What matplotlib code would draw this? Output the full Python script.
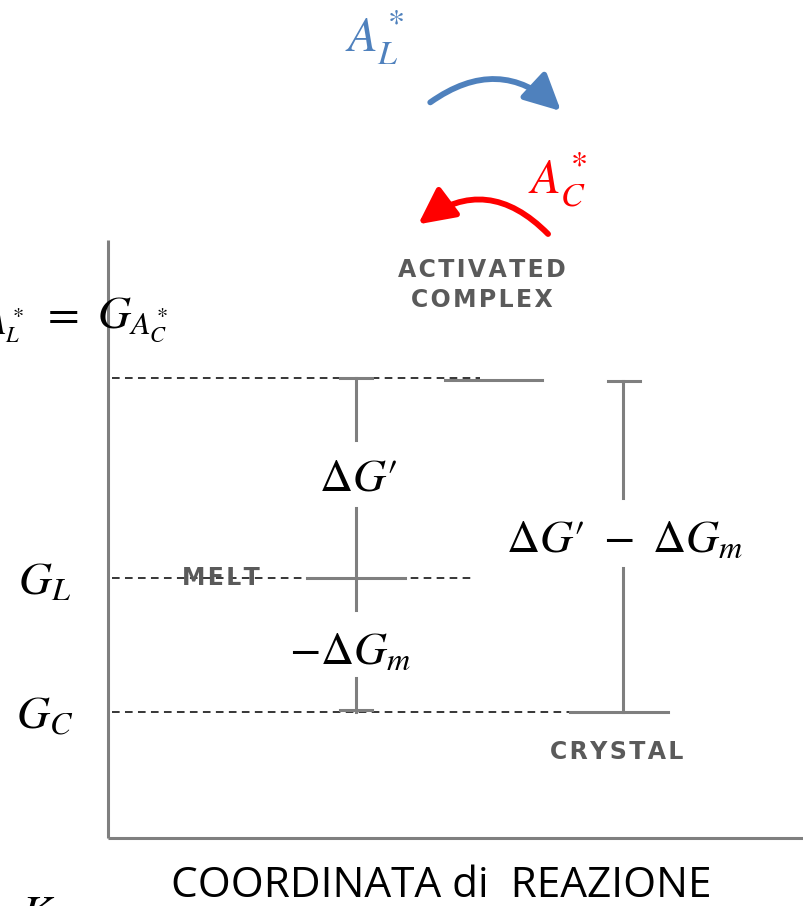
import matplotlib.pyplot as plt
from matplotlib.patches import FancyArrowPatch

plt.rcParams['mathtext.fontset'] = 'stix'

# energy levels (arbitrary units), reaction-coordinate spans of each state
level_names = ['ACTIVATED\nCOMPLEX', 'MELT', 'CRYSTAL']
level_G = [3.32, 1.34, 0.0]
level_x0 = [445, 307, 570]
level_x1 = [542, 405, 668]
dash_G = [3.34, 1.34, 0.0]
dash_x1 = [480, 472, 570]
left_labels = [r'$G_{A_L^*}\ =\ G_{A_C^*}$', r'$G_L$', r'$G_C$']

fig = plt.figure(figsize=(8.04, 9.06), dpi=100)
ax = fig.add_axes([0, 0, 1, 1])
ax.set_xlim(0, 804)
ax.set_ylim(-1.94, 7.12)
ax.axis('off')

def py(p):
    # pixel row -> energy unit
    return (712 - p) / 100.0

def spaced(s):
    # scanned labels have wide letter spacing
    return '\n'.join('\u200a'.join(line) for line in s.split('\n'))

gray = '#7f7f7f'
lab = '#5a5a5a'
# axes of the diagram
ax.plot([108, 108], [py(240), py(838)], color=gray, lw=2.2, solid_capstyle='butt')
ax.plot([108, 804], [py(838), py(838)], color=gray, lw=2.2, solid_capstyle='butt')

# dashed reference lines
for g, x1 in zip(dash_G, dash_x1):
    ax.plot([112, x1], [g, g], color='black', lw=1.1, ls=(0, (5, 3.5)))

# level bars
for g, x0, x1 in zip(level_G, level_x0, level_x1):
    ax.plot([x0, x1], [g, g], color=gray, lw=2.2)

# state names
ax.text(482, py(285), spaced(level_names[0]), ha='center', va='center', fontsize=17,
        color=lab, linespacing=1.3, family='DejaVu Sans', weight='bold')
ax.text(221, level_G[1], spaced(level_names[1]), ha='center', va='center', fontsize=17,
        color=lab, family='DejaVu Sans', weight='bold')
ax.text(617, py(752), spaced(level_names[2]), ha='center', va='center', fontsize=17,
        color=lab, family='DejaVu Sans', weight='bold')

# left bracket dG' and -dGm
bx = 356
G_A, G_L, G_C = dash_G
ax.plot([340, 372], [G_A, G_A], color=gray, lw=2.2)
ax.plot([bx, bx], [G_A, py(440)], color=gray, lw=2.2)
ax.plot([bx, bx], [py(508), py(610)], color=gray, lw=2.2)
ax.plot([bx, bx], [py(678), G_C], color=gray, lw=2.2)
ax.plot([340, 372], [py(710), py(710)], color=gray, lw=2.2)
ax.text(bx + 2, py(478), "$\\Delta G\u2032$", ha='center', va='center', fontsize=33)
ax.text(bx - 6, py(652), r"$-\Delta G_m$", ha='center', va='center', fontsize=33)

# right bracket
rx = 623
ax.plot([608, 640], [py(381), py(381)], color=gray, lw=2.2)
ax.plot([rx, rx], [py(381), py(498)], color=gray, lw=2.2)
ax.plot([rx, rx], [py(568), G_C], color=gray, lw=2.2)
ax.text(rx + 2, py(540), "$\\Delta G\u2032\\ -\\ \\Delta G_m$", ha='center', va='center', fontsize=33)

# left axis labels
ax.text(168, py(320), left_labels[0], ha='right', va='center', fontsize=33)
ax.text(45, py(582), left_labels[1], ha='center', va='center', fontsize=33)
ax.text(45, py(716), left_labels[2], ha='center', va='center', fontsize=33)
ax.text(20, py(892), r'$K$', ha='left', va='top', fontsize=33)

# x label
ax.text(441, py(886), 'COORDINATA di  REAZIONE', ha='center', va='center',
        fontsize=30.5, family='Open Sans')

# arrows between states
ax.text(375, py(38), r'$A_L^*$', ha='center', va='center', fontsize=35, color='#4f81bd')
ax.text(558, py(180), r'$A_C^*$', ha='center', va='center', fontsize=35, color='#ff0000')
ax.add_patch(FancyArrowPatch((428, py(104)), (563, py(113)),
                             connectionstyle='arc3,rad=-0.42', arrowstyle='-|>,head_length=22,head_width=11',
                             color='#4f81bd', lw=4.2, mutation_scale=1))
ax.add_patch(FancyArrowPatch((550, py(236)), (416, py(226)),
                             connectionstyle='arc3,rad=0.45', arrowstyle='-|>,head_length=22,head_width=11',
                             color='#ff0000', lw=4.2, mutation_scale=1))

fig.savefig('out.png', dpi=100)
